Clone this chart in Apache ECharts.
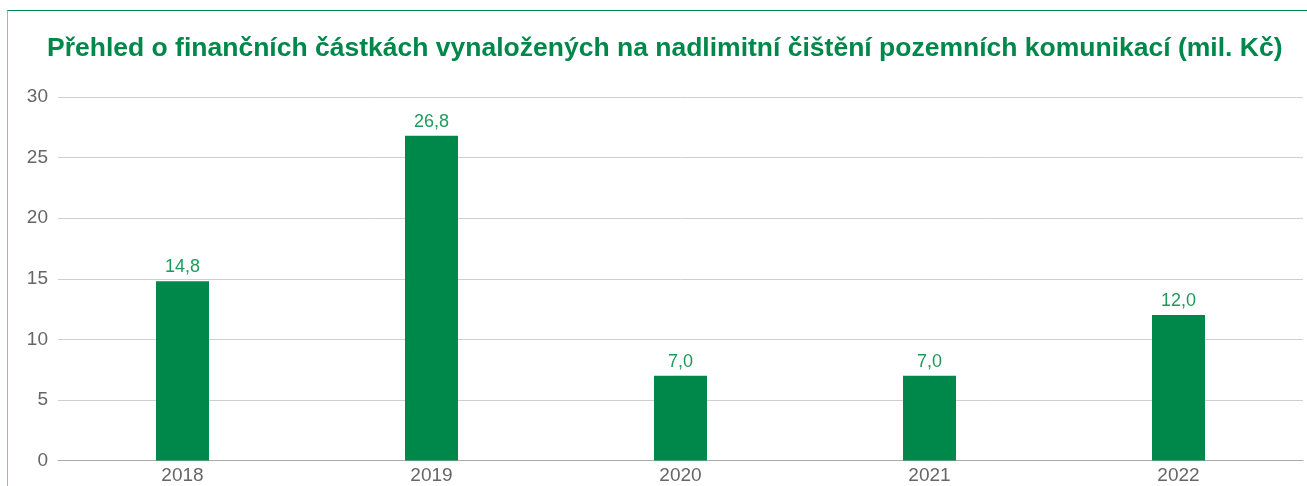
<!DOCTYPE html>
<html>
<head>
<meta charset="utf-8">
<script src="https://cdn.jsdelivr.net/npm/echarts@6/dist/echarts.min.js"></script>
<style>
    html, body { margin: 0; padding: 0; background: #fff; }
    #frame {
        position: absolute; left: 7px; top: 10px; width: 1400px; height: 600px;
        border-top: 1px solid #00884a; border-left: 1px solid #7fcba5;
    }
    #main { position: absolute; left: 0; top: 0; width: 1307px; height: 486px; }
</style>
</head>
<body>
<div id="frame"></div>
<div id="main"></div>
<script>
// data
var years = ['2018', '2019', '2020', '2021', '2022'];
var amounts = [14.8, 26.8, 7.0, 7.0, 12.0];
var yTicks = [0, 5, 10, 15, 20, 25, 30];

var green = '#00874a';

var myChart = echarts.init(document.getElementById('main'));
var option = {
    animation: false,
    title: {
        text: 'Přehled o finančních částkách vynaložených na nadlimitní čištění pozemních komunikací (mil. Kč)',
        left: 42,
        top: 30,
        textStyle: {
            color: '#00884a',
            fontFamily: 'Liberation Sans',
            fontWeight: 'bold',
            fontSize: 26.5
        }
    },
    grid: { left: 58, right: 4, top: 97, bottom: 25.5 },
    xAxis: {
        type: 'category',
        data: years,
        axisLine: { lineStyle: { color: '#aaa', width: 1 } },
        axisTick: { show: false },
        axisLabel: { color: '#666', fontSize: 19, fontFamily: 'Liberation Sans', margin: 6 }
    },
    yAxis: {
        type: 'value',
        min: yTicks[0],
        max: yTicks[yTicks.length - 1],
        interval: 5,
        axisLine: { show: false },
        axisTick: { show: false },
        splitLine: { lineStyle: { color: '#cfcfcf', width: 1 } },
        axisLabel: { color: '#666', fontSize: 19, fontFamily: 'Liberation Sans', margin: 10 }
    },
    series: [{
        type: 'bar',
        data: amounts,
        barWidth: 53,
        itemStyle: { color: green },
        label: {
            show: true,
            position: 'top',
            distance: 5,
            color: '#1f9a5c',
            fontSize: 18,
            fontFamily: 'Liberation Sans',
            formatter: function (p) { return p.value.toFixed(1).replace('.', ','); }
        }
    }]
};
myChart.setOption(option);
</script>
</body>
</html>
